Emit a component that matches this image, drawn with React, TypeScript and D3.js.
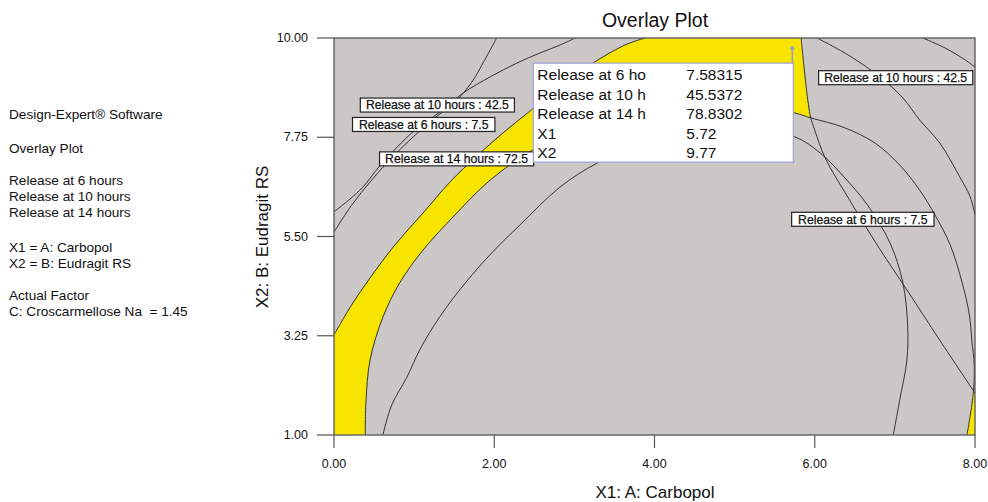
import React from 'react';
import * as d3 from 'd3';

type Pt = [number, number];

// Axis ticks
const xTicks = [0, 2, 4, 6, 8];
const yTicks = [1, 3.25, 5.5, 7.75, 10];

// Side legend text
const sideNotes = [
  'Design-Expert® Software',
  'Overlay Plot',
  'Release at 6 hours',
  'Release at 10 hours',
  'Release at 14 hours',
  'X1 = A: Carbopol',
  'X2 = B: Eudragit RS',
  'Actual Factor',
  'C: Croscarmellose Na  = 1.45',
];
const sideNoteBaselines = [119, 153, 185, 201, 217, 252, 268, 300, 316];

// Contour curves (X1, X2)
const r14Low: Pt[] = [
  [0, 3.27], [0.22, 3.95], [0.45, 4.56], [0.76, 5.31], [1.11, 6.03], [1.45, 6.74],
  [1.78, 7.32], [2.11, 7.85], [2.45, 8.35], [2.82, 8.89], [3.23, 9.43], [3.63, 9.84], [3.88, 10],
];
const r14High: Pt[] = [
  [0.39, 1.0], [0.40, 1.79], [0.45, 2.70], [0.61, 3.67], [0.82, 4.45], [1.11, 5.19],
  [1.51, 5.99], [1.95, 6.78], [2.48, 7.46], [3.07, 7.96], [3.69, 8.25], [4.32, 8.41],
  [4.94, 8.44], [5.44, 8.39], [5.75, 8.30], [5.95, 8.19], [6.38, 7.96], [6.75, 7.62],
  [7.06, 7.12], [7.31, 6.55], [7.50, 5.99], [7.69, 5.31], [7.84, 4.45], [7.93, 3.72],
  [7.96, 3.15], [7.99, 2.59], [7.98, 1.97], [7.90, 1.0],
];
const innerArc: Pt[] = [
  [0.61, 1.0], [0.72, 1.68], [0.91, 2.31], [1.07, 2.93], [1.32, 3.68], [1.64, 4.45],
  [1.98, 5.15], [2.32, 5.76], [2.82, 6.62], [3.29, 7.17], [3.82, 7.57], [4.57, 7.87],
  [5.19, 7.91], [5.75, 7.76], [6.07, 7.39], [6.40, 6.78], [6.66, 6.21], [6.94, 5.35],
  [7.10, 4.45], [7.16, 3.45], [7.15, 2.70], [7.06, 1.79], [6.98, 1.0],
];
const r6Right: Pt[] = [
  [5.83, 10], [5.87, 9.27], [5.92, 8.50], [5.95, 8.19], [6.00, 7.91], [6.13, 7.28],
  [6.42, 6.37], [6.81, 5.22], [7.15, 4.29], [7.56, 3.15], [8.0, 1.95],
];
const r10Right: Pt[] = [
  [6.03, 10], [6.44, 9.59], [6.81, 9.12], [7.10, 8.64], [7.31, 8.14], [7.56, 7.62],
  [7.81, 6.85], [7.94, 6.40], [8.0, 5.99],
];
const r10RightOuter: Pt[] = [[7.35, 10], [7.63, 9.77], [7.88, 9.50], [8.0, 9.34]];
const r10Left: Pt[] = [
  [3.01, 10], [2.82, 9.84], [2.57, 9.66], [2.28, 9.43], [1.95, 9.12], [1.61, 8.75],
  [1.32, 8.32], [1.01, 7.91], [0.79, 7.53], [0.57, 7.10], [0.36, 6.62], [0.20, 6.35], [0, 6.06],
];
const r6Left: Pt[] = [
  [2.03, 10], [1.88, 9.50], [1.72, 9.00], [1.51, 8.55], [1.26, 8.19], [0.99, 7.76],
  [0.74, 7.32], [0.47, 6.78], [0.22, 6.21], [0, 5.60],
];

// Contour flags
const flagTexts = [
  'Release at 10 hours : 42.5',
  'Release at 6 hours : 7.5',
  'Release at 14 hours : 72.5',
  'Release at 10 hours : 42.5',
  'Release at 6 hours : 7.5',
];
const flagAt: Pt[] = [[1.29, 8.48], [1.12, 8.04], [1.53, 7.26], [7.01, 9.10], [6.60, 5.89]];

// Flag point tooltip
const probePoint: Pt = [5.72, 9.77];
const tipNames = ['Release at 6 ho', 'Release at 10 h', 'Release at 14 h', 'X1', 'X2'];
const tipValues = ['7.58315', '45.5372', '78.8302', '5.72', '9.77'];

const FONT = '"Liberation Sans", Arial, Helvetica, sans-serif';
const GRAY = '#cac7c6';
const YELLOW = '#f7e500';

export default function App() {
  const x = d3.scaleLinear().domain([0, 8]).range([334, 975]);
  const y = d3.scaleLinear().domain([1, 10]).range([435, 38]);
  const line = d3
    .line<Pt>()
    .x((d) => x(d[0]))
    .y((d) => y(d[1]))
    .curve(d3.curveCatmullRom.alpha(0.5));
  const seg = (pts: Pt[]) => (line(pts) || '').replace(/^M/, 'L');

  const same = (a: Pt, b: Pt) => a[0] === b[0] && a[1] === b[1];
  const meet: Pt = [5.95, 8.19];
  const iC = r14High.findIndex((p) => same(p, meet));
  const iD = r6Right.findIndex((p) => same(p, meet));
  const mainRegion =
    `M${x(0)},${y(1)}` +
    seg(r14High.slice(0, iC + 1)) +
    seg(r6Right.slice(0, iD + 1).reverse()) +
    seg(r14Low.slice().reverse()) +
    'Z';
  const tailStart = r14High.length - 2;
  const sliver =
    (line(r14High.slice(tailStart)) || '') +
    `L${x(8)},${y(1)}L${x(8)},${y(r6Right[r6Right.length - 1][1])}Z`;

  const curves = [r14Low, r14High, innerArc, r6Right, r10Right, r10RightOuter, r10Left, r6Left];

  const px = x(probePoint[0]);
  const py = y(probePoint[1]);
  const boxW = 260;
  const boxH = 99;
  const boxX = px + 1 - boxW;
  const boxY = py + 15;

  return (
    <svg
      width={988}
      height={502}
      style={{ position: 'absolute', left: 0, top: 0, background: '#fff' }}
      fontFamily={FONT}
    >
      <defs>
        <clipPath id="plotClip">
          <rect x={334} y={38} width={641} height={397} />
        </clipPath>
      </defs>

      {sideNotes.map((t, i) => (
        <text
          key={i}
          x={9}
          y={sideNoteBaselines[i]}
          fontSize={13.6}
          fill="#111"
          style={{ whiteSpace: 'pre' }}
        >
          {t}
        </text>
      ))}

      <text x={655} y={27} fontSize={19.5} textAnchor="middle" fill="#111">
        Overlay Plot
      </text>

      <rect x={334} y={38} width={641} height={397} fill={GRAY} />
      <g clipPath="url(#plotClip)">
        <path d={mainRegion} fill={YELLOW} />
        <path d={sliver} fill={YELLOW} />
        {curves.map((c, i) => (
          <path key={i} d={line(c) || ''} fill="none" stroke="#333" strokeWidth={1} />
        ))}
      </g>
      <rect x={334} y={38} width={641} height={397} fill="none" stroke="#555" strokeWidth={1.3} />

      {flagTexts.map((t, i) => {
        const cx = x(flagAt[i][0]);
        const cy = y(flagAt[i][1]);
        const w = t.length * 5.85 + 2;
        return (
          <g key={i}>
            <rect x={cx - w / 2} y={cy - 7} width={w} height={14} fill="#fff" stroke="#222" strokeWidth={1.2} />
            <text
              x={cx}
              y={cy + 4.3}
              fontSize={12.2}
              textAnchor="middle"
              fill="#111"
              stroke="#111"
              strokeWidth={0.25}
            >
              {t}
            </text>
          </g>
        );
      })}

      <line x1={px} y1={py} x2={px} y2={boxY} stroke="#9a9ad0" strokeWidth={1.5} />
      <circle cx={px} cy={py} r={2} fill="#9a9ad0" />
      <rect x={boxX} y={boxY} width={boxW} height={boxH} fill="#fff" stroke="#a0a0d8" strokeWidth={1.2} />
      {tipNames.map((t, i) => (
        <g key={i}>
          <text x={boxX + 4} y={boxY + 17 + i * 19.5} fontSize={15.5} fill="#111">
            {t}
          </text>
          <text x={boxX + 153} y={boxY + 17 + i * 19.5} fontSize={15.5} fill="#111">
            {tipValues[i]}
          </text>
        </g>
      ))}

      {yTicks.map((v) => (
        <g key={v}>
          <line x1={317} x2={334} y1={y(v)} y2={y(v)} stroke="#555" strokeWidth={1.2} />
          <text x={308} y={y(v) + 4} fontSize={12.5} textAnchor="end" fill="#111">
            {v.toFixed(2)}
          </text>
        </g>
      ))}
      {xTicks.map((v) => (
        <g key={v}>
          <line x1={x(v)} x2={x(v)} y1={435} y2={448} stroke="#555" strokeWidth={1.2} />
          <text x={x(v)} y={468} fontSize={12.5} textAnchor="middle" fill="#111">
            {v.toFixed(2)}
          </text>
        </g>
      ))}

      <text x={655} y={498} fontSize={17} textAnchor="middle" fill="#111">
        X1: A: Carbopol
      </text>
      <text
        transform={`translate(268, 237) rotate(-90)`}
        fontSize={17}
        textAnchor="middle"
        fill="#111"
      >
        X2: B: Eudragit RS
      </text>
    </svg>
  );
}
